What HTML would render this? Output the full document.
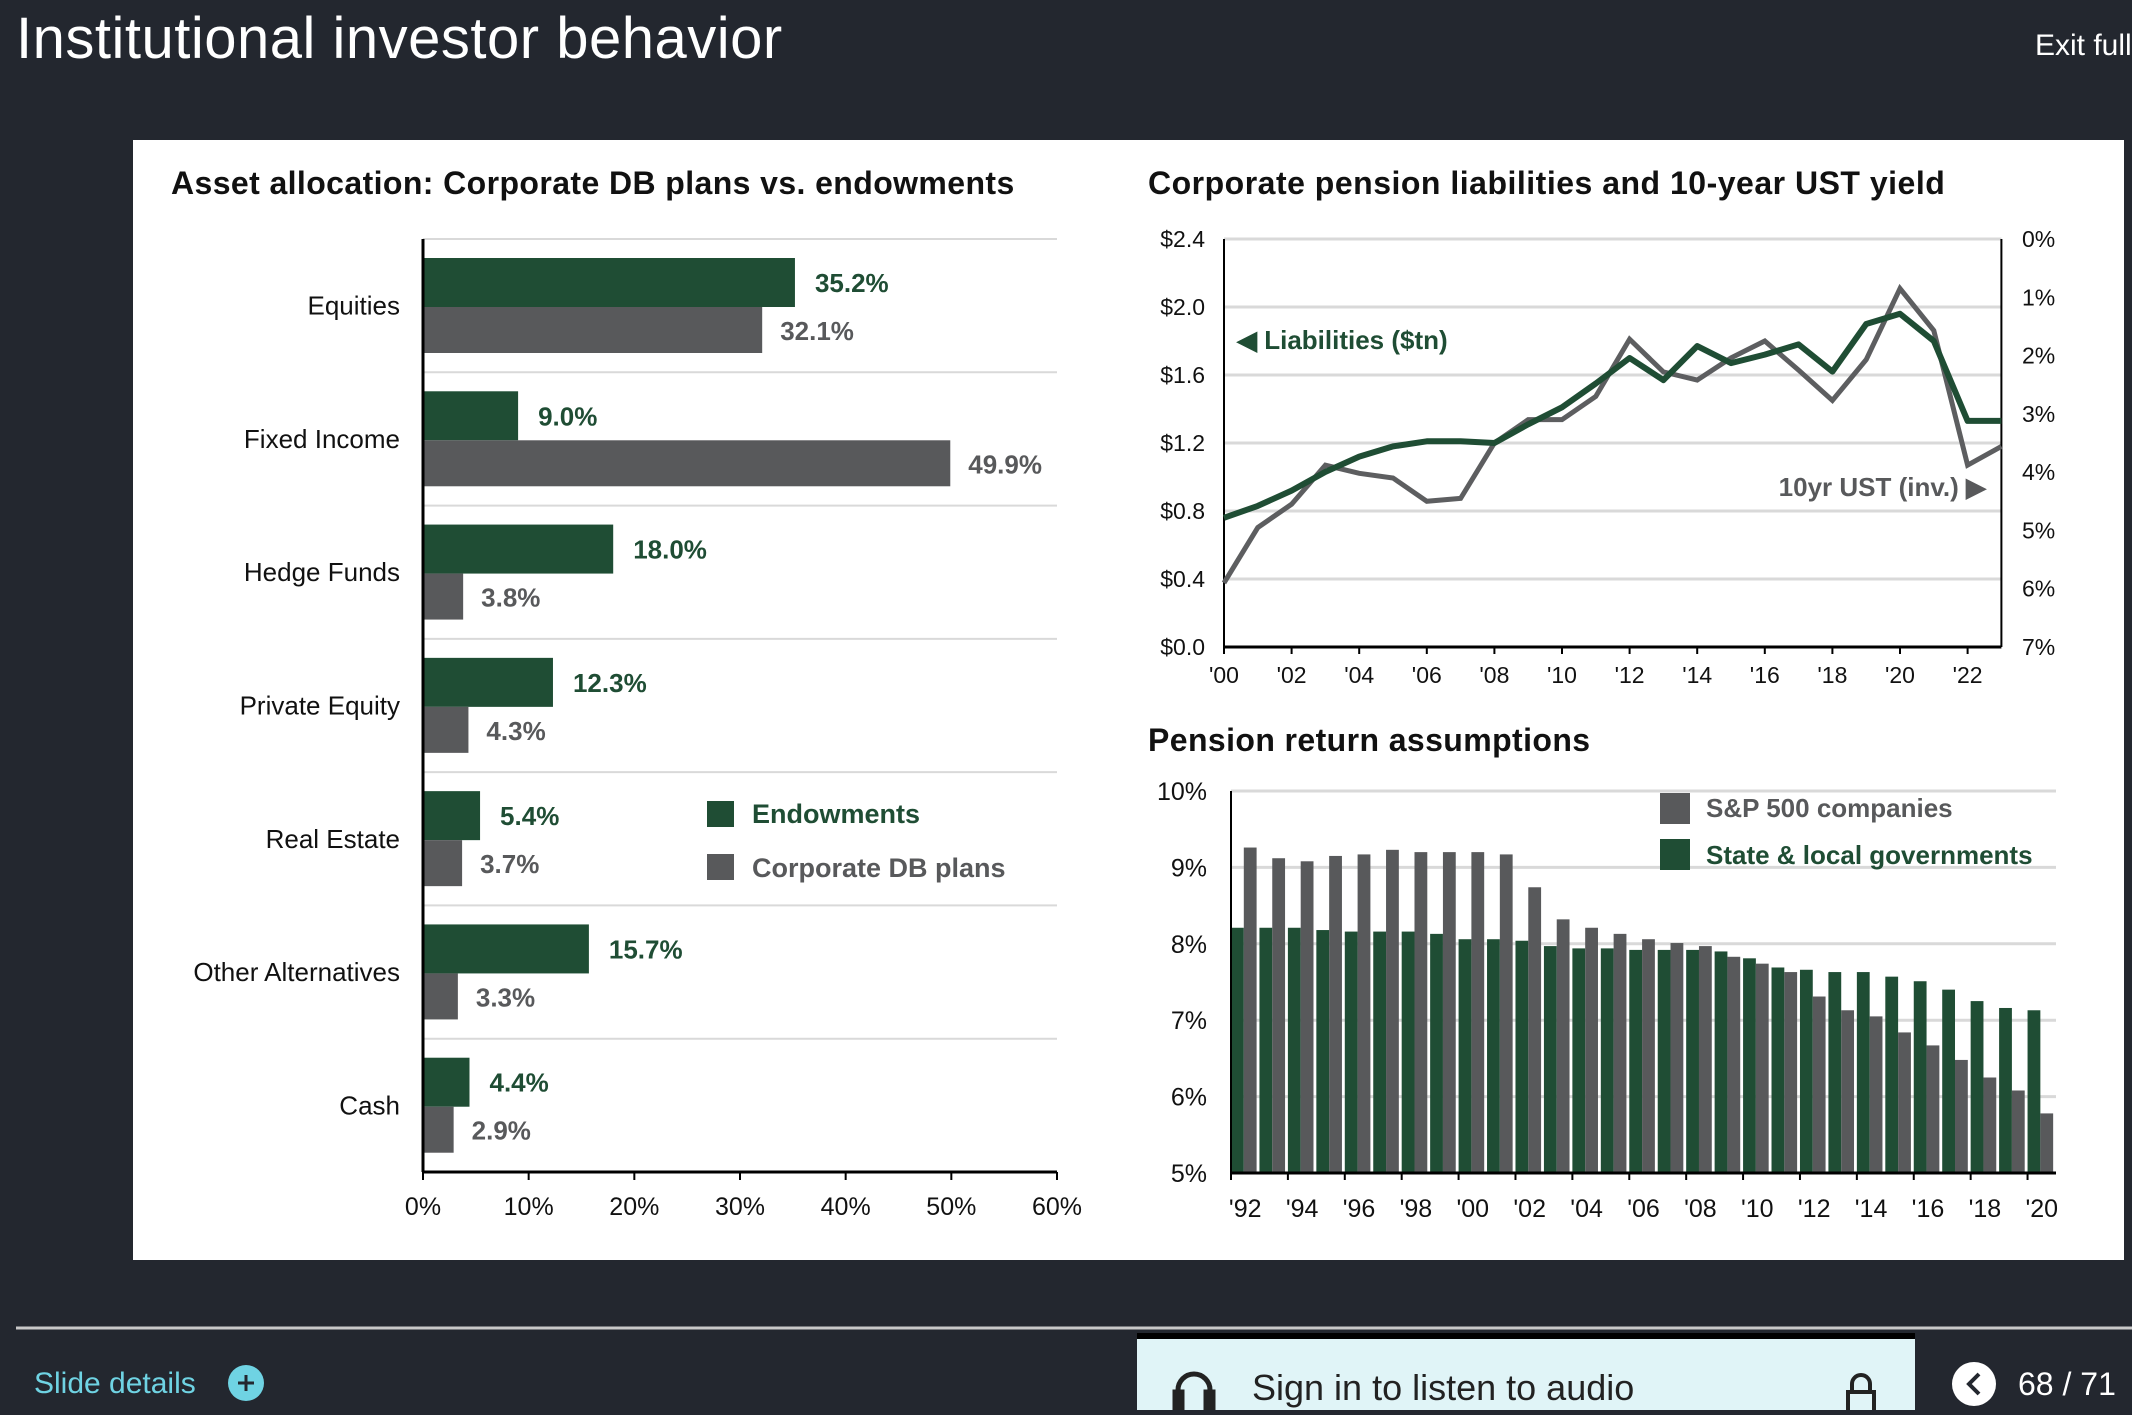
<!DOCTYPE html>
<html><head><meta charset="utf-8">
<style>
html,body{margin:0;padding:0;background:#23272f;}
body{width:2132px;height:1410px;overflow:hidden;font-family:"Liberation Sans",sans-serif;}
svg text{font-family:"Liberation Sans",sans-serif;}
</style></head>
<body>
<svg id="root" width="2132" height="1410" viewBox="0 0 2132 1410" xmlns="http://www.w3.org/2000/svg">
  <rect x="0" y="0" width="2132" height="1410" fill="#23272f"/>
  <text x="16" y="58" font-size="58" letter-spacing="0.5" fill="#ffffff">Institutional investor behavior</text>
  <text x="2035" y="55" font-size="30" fill="#ffffff">Exit full</text>
  <rect x="133" y="140" width="1991" height="1120" fill="#ffffff"/>

  <g id="barchart">
    <text x="171" y="194" font-size="32" font-weight="bold" letter-spacing="0.4" fill="#111">Asset allocation: Corporate DB plans vs. endowments</text>
  </g>
  <g id="linechart">
    <text x="1148" y="194" font-size="32" font-weight="bold" letter-spacing="0.5" fill="#111">Corporate pension liabilities and 10-year UST yield</text>
  </g>
  <g id="colchart">
    <text x="1148" y="751" font-size="32" font-weight="bold" letter-spacing="0.4" fill="#111">Pension return assumptions</text>
  </g>

  <line x1="16" y1="1328" x2="2132" y2="1328" stroke="#c8c8c8" stroke-width="3"/>
  <text x="34" y="1393" font-size="30" fill="#6fd3e3">Slide details</text>
  <g>
    <circle cx="246" cy="1383" r="18" fill="#6fd3e3"/>
    <line x1="238" y1="1383" x2="254" y2="1383" stroke="#23272f" stroke-width="3"/>
    <line x1="246" y1="1375" x2="246" y2="1391" stroke="#23272f" stroke-width="3"/>
  </g>
  <rect x="1137" y="1333" width="778" height="77" fill="#e0f4f7"/>
  <rect x="1137" y="1333" width="778" height="6" fill="#000"/>
  <g fill="none" stroke="#222" stroke-width="5">
    <path d="M1178 1408 v-18 a16 16 0 0 1 32 0 v18"/>
    <rect x="1175" y="1392" width="7" height="16" fill="#222"/>
    <rect x="1206" y="1392" width="7" height="16" fill="#222"/>
  </g>
  <text x="1252" y="1400" font-size="36" fill="#222">Sign in to listen to audio</text>
  <g fill="none" stroke="#222" stroke-width="4">
    <path d="M1852 1392 v-8 a9 9 0 0 1 18 0 v8"/>
    <rect x="1848" y="1392" width="26" height="22"/>
  </g>
  <g>
    <circle cx="1974" cy="1384" r="22" fill="#ffffff"/>
    <path d="M1979 1374 l-10 10 l10 10" fill="none" stroke="#23272f" stroke-width="4"/>
  </g>
  <text x="2018" y="1395" font-size="32" fill="#ffffff">68 / 71</text>
</svg>
<script>
const NS='http://www.w3.org/2000/svg';
function mk(parent,tag,attrs,txt){const e=document.createElementNS(NS,tag);for(const k in attrs)e.setAttribute(k,attrs[k]);if(txt!==undefined)e.textContent=txt;parent.appendChild(e);return e;}
const GREEN='#1f4d34', GRAY='#58595b';

// ---------- Asset allocation ----------
const allocCategories=['Equities','Fixed Income','Hedge Funds','Private Equity','Real Estate','Other Alternatives','Cash'];
const endowmentValues=[35.2,9.0,18.0,12.3,5.4,15.7,4.4];
const dbPlanValues=[32.1,49.9,3.8,4.3,3.7,3.3,2.9];
const allocTicks=[0,10,20,30,40,50,60];
(function(){
  const g=document.getElementById('barchart');
  const x0=423,x1=1057,y0=239,y1=1172;
  const xs=v=>x0+(v/60)*(x1-x0);
  const band=(y1-y0)/allocCategories.length;
  for(let i=0;i<=allocCategories.length;i++){
    const y=y0+i*band;
    const l=mk(g,'line',{x1:x0,y1:y,x2:x1,y2:y,stroke:'#d9d9d9','stroke-width':2});
    
    
  }
  allocCategories.forEach((c,i)=>{
    const by=y0+i*band;
    const t=mk(g,'text',{x:400,y:by+band/2+9,'font-size':26,'text-anchor':'end',fill:'#111'},c);
    
    
    const r1=mk(g,'rect',{x:x0,y:by+19,width:xs(endowmentValues[i])-x0,height:49,fill:GREEN});
    
    
    const r2=mk(g,'rect',{x:x0,y:by+68,width:xs(dbPlanValues[i])-x0,height:46,fill:GRAY});
    
    
    const v1=mk(g,'text',{x:xs(endowmentValues[i])+20,y:by+53,'font-size':26,'font-weight':'bold',fill:GREEN},endowmentValues[i].toFixed(1)+'%');
    
    
    const v2=mk(g,'text',{x:xs(dbPlanValues[i])+18,y:by+101,'font-size':26,'font-weight':'bold',fill:GRAY},dbPlanValues[i].toFixed(1)+'%');
    
    
  });
  const ax=mk(g,'line',{x1:x0,y1:y0,x2:x0,y2:y1,stroke:'#000','stroke-width':3});
  
  
  const bx=mk(g,'line',{x1:x0,y1:y1,x2:x1,y2:y1,stroke:'#000','stroke-width':3});
  
  
  allocTicks.forEach(v=>{
    const tk=mk(g,'line',{x1:xs(v),y1:y1,x2:xs(v),y2:y1+8,stroke:'#000','stroke-width':2});
    
    
    const t=mk(g,'text',{x:xs(v),y:1215,'font-size':25,'text-anchor':'middle',fill:'#111'},v+'%');
    
    
  });
  const l1=mk(g,'rect',{x:707,y:801,width:27,height:26,fill:GREEN});
  
  
  const l1t=mk(g,'text',{x:752,y:823,'font-size':27,'font-weight':'bold',fill:GREEN},'Endowments');
  
  
  const l2=mk(g,'rect',{x:707,y:854,width:27,height:26,fill:GRAY});
  
  
  const l2t=mk(g,'text',{x:752,y:877,'font-size':27,'font-weight':'bold',fill:GRAY},'Corporate DB plans');
  
  
})();

// ---------- Liabilities vs yield ----------
const lineYears=[2000,2001,2002,2003,2004,2005,2006,2007,2008,2009,2010,2011,2012,2013,2014,2015,2016,2017,2018,2019,2020,2021,2022,2023];
const liabilities=[0.76,0.83,0.92,1.03,1.12,1.18,1.21,1.21,1.20,1.31,1.41,1.55,1.70,1.57,1.77,1.67,1.72,1.78,1.62,1.90,1.96,1.80,1.33,1.33];
const ustYield=[5.9,4.95,4.55,3.88,4.02,4.1,4.5,4.45,3.5,3.1,3.1,2.7,1.72,2.28,2.42,2.04,1.75,2.25,2.77,2.07,0.85,1.57,3.88,3.56];
const leftTicks=[0,0.4,0.8,1.2,1.6,2.0,2.4];
const rightTicks=[0,1,2,3,4,5,6,7];
const lineXLabels=["'00","'02","'04","'06","'08","'10","'12","'14","'16","'18","'20","'22"];
(function(){
  const g=document.getElementById('linechart');
  const x0=1224,y0=239,y1=647,step=33.8,x1=x0+23*step;
  const xs=yr=>x0+(yr-2000)*step;
  const yl=v=>y1-(v/2.4)*(y1-y0);
  const yr=p=>y0+(p/7)*(y1-y0);
  leftTicks.forEach(v=>{
    if(v>0){const l=mk(g,'line',{x1:x0,y1:yl(v),x2:x1,y2:yl(v),stroke:'#d9d9d9','stroke-width':3});
    
    }
    const t=mk(g,'text',{x:1205,y:yl(v)+8,'font-size':23,'text-anchor':'end',fill:'#111'},'$'+v.toFixed(1));
    
    
  });
  rightTicks.forEach(p=>{
    const t=mk(g,'text',{x:2022,y:yr(p)+8,'font-size':23,fill:'#111'},p+'%');
    
    
  });
  const a1=mk(g,'line',{x1:x0,y1:y0,x2:x0,y2:y1,stroke:'#000','stroke-width':2});
  
  
  const a2=mk(g,'line',{x1:x1,y1:y0,x2:x1,y2:y1,stroke:'#000','stroke-width':2});
  
  
  const a3=mk(g,'line',{x1:x0,y1:y1,x2:x1,y2:y1,stroke:'#000','stroke-width':3});
  
  
  lineXLabels.forEach((lab,i)=>{
    const xx=xs(2000+2*i);
    const tk=mk(g,'line',{x1:xx,y1:y1,x2:xx,y2:y1+7,stroke:'#000','stroke-width':2});
    
    
    const t=mk(g,'text',{x:xx,y:683,'font-size':23,'text-anchor':'middle',fill:'#111'},lab);
    
    
  });
  const gp=ustYield.map((p,i)=>xs(lineYears[i])+','+yr(p)).join(' ');
  const pl2=mk(g,'polyline',{points:gp,fill:'none',stroke:'#5d5e60','stroke-width':5,'stroke-linejoin':'miter'});
  
  
  const lp=liabilities.map((v,i)=>xs(lineYears[i])+','+yl(v)).join(' ');
  const pl1=mk(g,'polyline',{points:lp,fill:'none',stroke:GREEN,'stroke-width':6,'stroke-linejoin':'round'});
  
  
  const t1=mk(g,'text',{x:1237,y:349,'font-size':26,'font-weight':'bold',fill:GREEN},'◀ Liabilities  ($tn)');
  
  
  const t2=mk(g,'text',{x:1986,y:496,'font-size':26,'font-weight':'bold','text-anchor':'end',fill:GRAY},'10yr UST (inv.) ▶');
  
  
})();

// ---------- Pension return assumptions ----------
const colYears=[1992,1993,1994,1995,1996,1997,1998,1999,2000,2001,2002,2003,2004,2005,2006,2007,2008,2009,2010,2011,2012,2013,2014,2015,2016,2017,2018,2019,2020];
const stateLocal=[8.21,8.21,8.21,8.18,8.16,8.16,8.16,8.13,8.06,8.06,8.04,7.97,7.94,7.94,7.92,7.92,7.92,7.90,7.81,7.69,7.66,7.63,7.63,7.57,7.51,7.40,7.25,7.16,7.13];
const sp500=[9.26,9.12,9.08,9.15,9.17,9.23,9.20,9.20,9.20,9.17,8.74,8.32,8.21,8.13,8.06,8.01,7.97,7.83,7.74,7.63,7.31,7.13,7.05,6.84,6.67,6.48,6.25,6.08,5.78];
const colYTicks=[5,6,7,8,9,10];
const colXLabels=["'92","'94","'96","'98","'00","'02","'04","'06","'08","'10","'12","'14","'16","'18","'20"];
(function(){
  const g=document.getElementById('colchart');
  const x0=1231,x1=2056,y0=791,y1=1173;
  const slot=(x1-x0)/colYears.length;
  const ys=v=>y1-((v-5)/5)*(y1-y0);
  colYTicks.forEach(v=>{
    if(v>5){const l=mk(g,'line',{x1:x0,y1:ys(v),x2:x1,y2:ys(v),stroke:'#d9d9d9','stroke-width':3});
    
    }
    const t=mk(g,'text',{x:1207,y:ys(v)+9,'font-size':25,'text-anchor':'end',fill:'#111'},v+'%');
    
    
  });
  const bw=slot*0.45;
  colYears.forEach((yr,i)=>{
    const sx=x0+i*slot;
    const r1=mk(g,'rect',{x:sx,y:ys(stateLocal[i]),width:bw,height:y1-ys(stateLocal[i]),fill:GREEN});
    
    
    const r2=mk(g,'rect',{x:sx+bw,y:ys(sp500[i]),width:bw,height:y1-ys(sp500[i]),fill:GRAY});
    
    
  });
  const a1=mk(g,'line',{x1:x0,y1:y0,x2:x0,y2:y1,stroke:'#000','stroke-width':2});
  
  
  const a2=mk(g,'line',{x1:x0,y1:y1,x2:x1,y2:y1,stroke:'#000','stroke-width':3});
  
  
  colXLabels.forEach((lab,i)=>{
    const cx=x0+(2*i+0.5)*slot;
    const tk=mk(g,'line',{x1:x0+2*i*slot,y1:y1,x2:x0+2*i*slot,y2:y1+7,stroke:'#000','stroke-width':2});
    
    
    const t=mk(g,'text',{x:cx,y:1217,'font-size':25,'text-anchor':'middle',fill:'#111'},lab);
    
    
  });
  const s1=mk(g,'rect',{x:1660,y:793,width:30,height:31,fill:GRAY});
  
  
  const s1t=mk(g,'text',{x:1706,y:817,'font-size':26,'font-weight':'bold',fill:GRAY},'S&P 500 companies');
  
  
  const s2=mk(g,'rect',{x:1660,y:839,width:30,height:31,fill:GREEN});
  
  
  const s2t=mk(g,'text',{x:1706,y:864,'font-size':26,'font-weight':'bold',fill:GREEN},'State & local governments');
  
  
})();
</script>
</body></html>
